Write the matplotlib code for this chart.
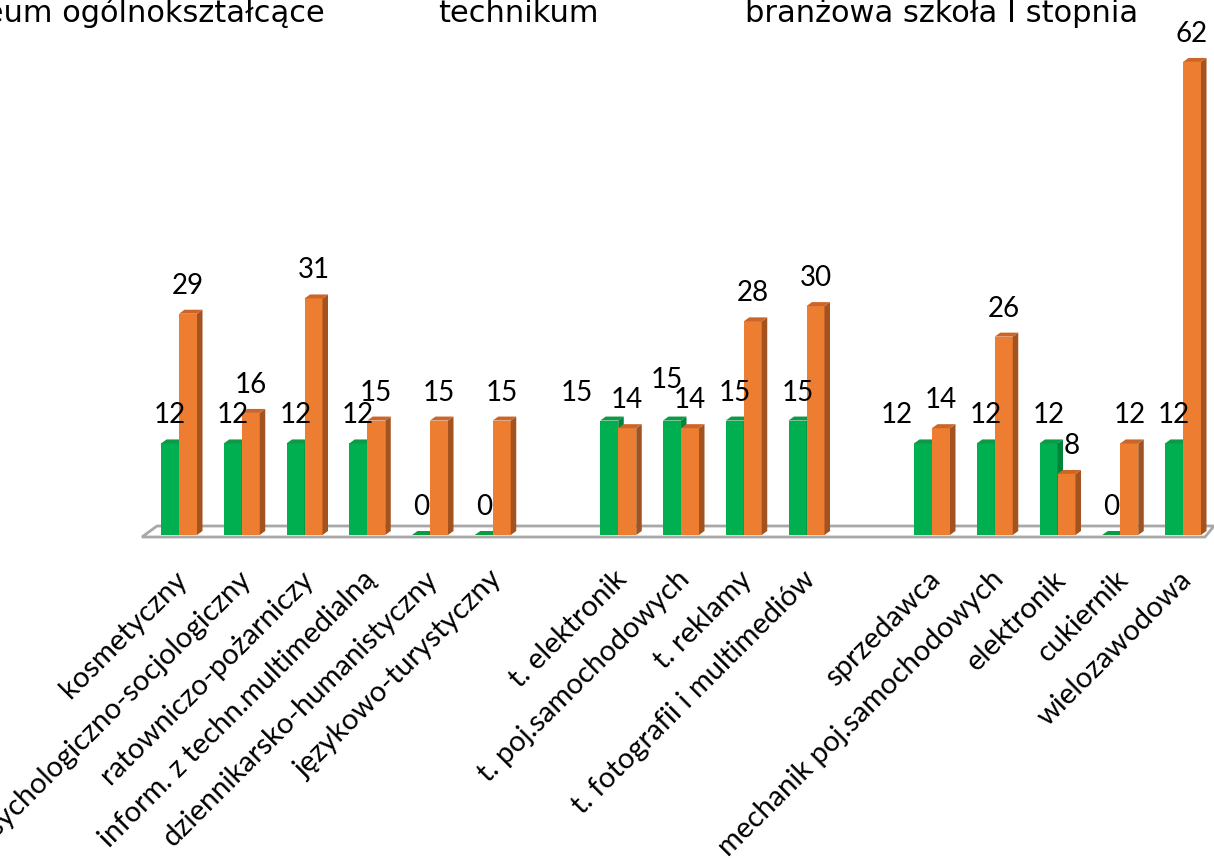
import matplotlib
matplotlib.use('Agg')
import matplotlib.pyplot as plt
from matplotlib.patches import Polygon

# ---------------- data ----------------
categories = ["kosmetyczny", "psychologiczno-socjologiczny", "ratowniczo-pożarniczy",
              "inform. z techn.multimedialną", "dziennikarsko-humanistyczny",
              "językowo-turystyczny", "",
              "t. elektronik", "t. poj.samochodowych", "t. reklamy",
              "t. fotografii i multimediów", "",
              "sprzedawca", "mechanik poj.samochodowych", "elektronik", "cukiernik",
              "wielozawodowa"]
green_vals = [12, 12, 12, 12, 0, 0, None, 15, 15, 15, 15, None, 12, 12, 12, 0, 12]
orange_vals = [29, 16, 31, 15, 15, 15, None, 14, 14, 28, 30, None, 14, 26, 8, 12, 62]
group_titles = ["liceum ogólnokształcące", "technikum", "branżowa szkoła I stopnia"]

# ---------------- styling / layout ----------------
W, H = 1214, 862
DPI = 100
PX = 62.75      # pixels per category slot
PY = 7.63       # pixels per value unit
X0 = 179        # pixel x of first slot centre
Y0 = 536        # pixel y (from top) of baseline

GREEN = '#00b050'
GREEN_SIDE = '#00833a'
GREEN_TOP = '#0d9a45'
ORANGE = '#ed7d31'
ORANGE_SIDE = '#a3531f'
ORANGE_TOP = '#cc6628'

bw = 18.0 / PX          # bar width in slot units
ddx = 5.5 / PX          # 3D depth offset x
ddy = 4.0 / PY          # 3D depth offset y

fig = plt.figure(figsize=(W / DPI, H / DPI), dpi=DPI)
ax = fig.add_axes([0, 0, 1, 1])
ax.set_xlim((0 - X0) / PX, (W - X0) / PX)
ax.set_ylim((Y0 - H) / PY, Y0 / PY)
ax.axis('off')

# floor
fl = [((142 - X0) / PX, -2 / PY), ((1205 - X0) / PX, -2 / PY),
      ((1214 - X0) / PX, 9 / PY), ((157 - X0) / PX, 9 / PY)]
ax.add_patch(Polygon(fl, closed=True, facecolor='white', edgecolor='#a8a8a8',
                     lw=2.0, zorder=1))


def draw_bar(xc, h, front, side, top, z):
    xl, xr = xc - bw / 2, xc + bw / 2
    ax.bar(xc, h, width=bw, color=front, linewidth=0, zorder=z)
    ax.add_patch(Polygon([(xr, 0), (xr + ddx, ddy), (xr + ddx, h + ddy), (xr, h)],
                         closed=True, facecolor=side, edgecolor='none', zorder=z))
    ax.add_patch(Polygon([(xl, h), (xl + ddx, h + ddy), (xr + ddx, h + ddy), (xr, h)],
                         closed=True, facecolor=top, edgecolor='none', zorder=z))


label_font = dict(family=['Lato', 'DejaVu Sans'], fontsize=20, color='black')
# label nudges in pixels: (series, index) -> (dx, dy up)
nudges = {('g', 7): (-32, 0), ('g', 8): (-5, 13), ('g', 12): (-26, 0), ('o', 14): (5, 0)}
LBL_UP = 29  # px above bar top

for i, (g, o) in enumerate(zip(green_vals, orange_vals)):
    if g is None:
        continue
    base_z = 3 + i * 0.01
    xg = i - bw / 2
    xo = i + bw / 2
    draw_bar(xg, g, GREEN, GREEN_SIDE, GREEN_TOP, base_z)
    draw_bar(xo, o, ORANGE, ORANGE_SIDE, ORANGE_TOP, base_z + 0.005)
    for key, xc, v in (('g', xg, g), ('o', xo, o)):
        dx, dy = nudges.get((key, i), (0, 0))
        ax.annotate(str(v), (xc, v), xytext=(dx * 0.72, (LBL_UP + dy) * 0.72),
                    textcoords='offset points', ha='center', va='center',
                    zorder=10, **label_font)

# category labels
cat_font = dict(family=['Lato', 'DejaVu Sans'], fontsize=21, color='black')
for i, c in enumerate(categories):
    if not c:
        continue
    ax.text(i + 10 / PX, (Y0 - 581) / PY, c, rotation=45, rotation_mode='anchor',
            ha='right', va='baseline', **cat_font)

# group titles
title_font = dict(family=['DejaVu Sans'], fontsize=22, color='black')
fig.text(325 / W, (H - 22) / H, group_titles[0], ha='right', va='baseline', **title_font)
fig.text(438 / W, (H - 22) / H, group_titles[1], ha='left', va='baseline', **title_font)
fig.text(745 / W, (H - 22) / H, group_titles[2], ha='left', va='baseline', **title_font)

fig.savefig('out.png', dpi=DPI)
